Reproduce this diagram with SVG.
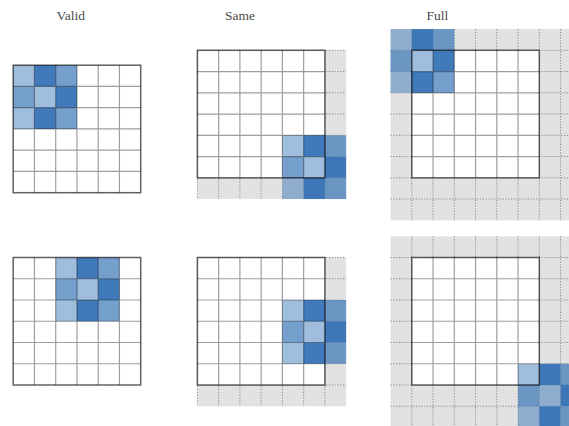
<svg xmlns="http://www.w3.org/2000/svg" xmlns:xlink="http://www.w3.org/1999/xlink" width="569" height="426" viewBox="0 0 569 426">
<style>
.title{font-family:"Liberation Serif","DejaVu Serif",serif;font-size:13.5px;fill:#4a4a4a;text-anchor:middle}
.pad{fill:#e2e2e2}
.dot{fill:none;stroke:#8a8a8a;stroke-width:1;stroke-dasharray:1.2 1.6}
.in{fill:#fff}
.k1{fill:#2b6cb2;fill-opacity:0.45}
.k2{fill:#2b6cb2;fill-opacity:0.65}
.k3{fill:#2b6cb2;fill-opacity:0.9}
.inner{fill:none;stroke:#000;stroke-opacity:0.38;stroke-width:1.2}
.outer{fill:none;stroke:#000;stroke-opacity:0.62;stroke-width:1.5}
</style>
<defs>
<g id="kern">
<rect class="k1" x="0" y="0" width="21.25" height="21.25"/>
<rect class="k3" x="21.25" y="0" width="21.25" height="21.25"/>
<rect class="k2" x="42.5" y="0" width="21.25" height="21.25"/>
<rect class="k2" x="0" y="21.25" width="21.25" height="21.25"/>
<rect class="k1" x="21.25" y="21.25" width="21.25" height="21.25"/>
<rect class="k3" x="42.5" y="21.25" width="21.25" height="21.25"/>
<rect class="k1" x="0" y="42.5" width="21.25" height="21.25"/>
<rect class="k3" x="21.25" y="42.5" width="21.25" height="21.25"/>
<rect class="k2" x="42.5" y="42.5" width="21.25" height="21.25"/>
</g>
<g id="grid">
<path class="inner" d="M21.25 0V127.5M42.5 0V127.5M63.75 0V127.5M85 0V127.5M106.25 0V127.5M0 21.25H127.5M0 42.5H127.5M0 63.75H127.5M0 85H127.5M0 106.25H127.5"/>
<rect class="outer" x="0" y="0" width="127.5" height="127.5"/>
</g>
<path id="dotSame" class="dot" d="M0 0V148.75M21.25 0V148.75M42.5 0V148.75M63.75 0V148.75M85 0V148.75M106.25 0V148.75M127.5 0V148.75M0 0H148.75M0 21.25H148.75M0 42.5H148.75M0 63.75H148.75M0 85H148.75M0 106.25H148.75M0 127.5H148.75"/>
<path id="dotFull" class="dot" d="M0 -21.25V170M21.25 -21.25V170M42.5 -21.25V170M63.75 -21.25V170M85 -21.25V170M106.25 -21.25V170M127.5 -21.25V170M148.75 -21.25V170M-21.25 0H170M-21.25 21.25H170M-21.25 42.5H170M-21.25 63.75H170M-21.25 85H170M-21.25 106.25H170M-21.25 127.5H170M-21.25 148.75H170"/>
</defs>
<g id="titles">
<text class="title" x="70.8" y="19.5">Valid</text>
<text class="title" x="240" y="19.5">Same</text>
<text class="title" x="437.5" y="19.5">Full</text>
</g>
<g id="valid-top" transform="translate(13.2,65.2)">
<rect class="in" width="127.5" height="127.5"/>
<use xlink:href="#kern" href="#kern"/>
<use xlink:href="#grid" href="#grid"/>
</g>
<g id="valid-bottom" transform="translate(13.2,257.5)">
<rect class="in" width="127.5" height="127.5"/>
<use xlink:href="#kern" href="#kern" x="42.5" y="0"/>
<use xlink:href="#grid" href="#grid"/>
</g>
<g id="same-top" transform="translate(197.4,50.3)">
<rect class="pad" width="148.75" height="148.75"/>
<use xlink:href="#dotSame" href="#dotSame"/>
<rect class="in" width="127.5" height="127.5"/>
<use xlink:href="#kern" href="#kern" x="85" y="85"/>
<use xlink:href="#grid" href="#grid"/>
</g>
<g id="same-bottom" transform="translate(197.4,257.5)">
<rect class="pad" width="148.75" height="148.75"/>
<use xlink:href="#dotSame" href="#dotSame"/>
<rect class="in" width="127.5" height="127.5"/>
<use xlink:href="#kern" href="#kern" x="85" y="42.5"/>
<use xlink:href="#grid" href="#grid"/>
</g>
<g id="full-top" transform="translate(411.8,50.3)">
<rect class="pad" x="-21.25" y="-21.25" width="191.25" height="191.25"/>
<use xlink:href="#dotFull" href="#dotFull"/>
<rect class="in" width="127.5" height="127.5"/>
<use xlink:href="#kern" href="#kern" x="-21.25" y="-21.25"/>
<use xlink:href="#grid" href="#grid"/>
</g>
<g id="full-bottom" transform="translate(411.8,257.5)">
<rect class="pad" x="-21.25" y="-21.25" width="191.25" height="191.25"/>
<use xlink:href="#dotFull" href="#dotFull"/>
<rect class="in" width="127.5" height="127.5"/>
<use xlink:href="#kern" href="#kern" x="106.25" y="106.25"/>
<use xlink:href="#grid" href="#grid"/>
</g>
</svg>
